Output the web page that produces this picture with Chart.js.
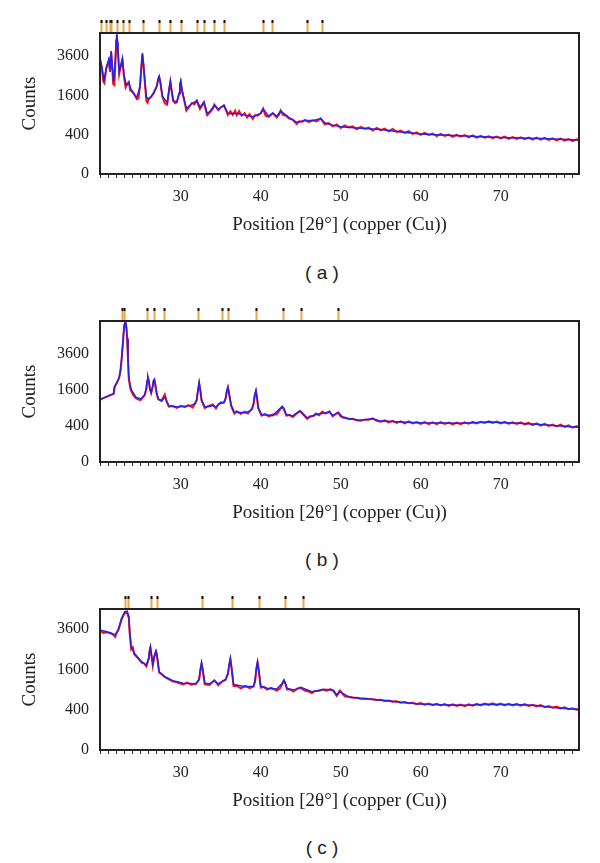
<!DOCTYPE html>
<html>
<head>
<meta charset="utf-8">
<script src="https://cdn.jsdelivr.net/npm/chart.js@4/dist/chart.umd.min.js"></script>
<style>
  html, body { margin: 0; padding: 0; background: #fff; }
  #page { position: relative; width: 600px; height: 863px; overflow: hidden; }
  .panel { position: absolute; left: 0; width: 600px; height: 240px; }
  .cap { position: absolute; left: 262px; width: 120px; text-align: center;
         font-family: "Liberation Sans", Arial, sans-serif; font-size: 19px; color: #222; line-height: 24px; }
</style>
</head>
<body>
<div id="page">
  <div class="panel" style="top:0px"><canvas id="ca" width="600" height="240"></canvas></div>
  <div class="panel" style="top:288px"><canvas id="cb" width="600" height="240"></canvas></div>
  <div class="panel" style="top:576px"><canvas id="cc" width="600" height="240"></canvas></div>
  <div class="cap" style="top:261px">( a )</div>
  <div class="cap" style="top:548px">( b )</div>
  <div class="cap" style="top:836px">( c )</div>
</div>
<script>
// ---------- tick labels ----------
const yTickValues = [0, 400, 1600, 3600];
const xTickLabels = [30, 40, 50, 60, 70];
const xTitle = 'Position [2θ°] (copper (Cu))';
const yTitle = 'Counts';

// ---------- panel (a): [2θ, counts] ----------
const aCalc = [[19.9,3500],[20.2,2800],[20.4,2285],[20.7,2900],[21.0,3400],[21.15,2795],[21.3,3930],[21.45,2900],[21.6,2200],[21.8,3300],[21.92,4600],[22.0,5100],[22.08,4500],[22.15,3800],[22.3,2705],[22.5,3000],[22.7,3460],[22.9,2530],[23.2,2047],[23.5,2155],[23.9,1750],[24.5,1520],[24.9,1970],[25.05,2900],[25.2,3800],[25.35,3100],[25.5,2300],[25.7,1545],[26.0,1444],[26.6,1682],[27.0,2000],[27.2,2400],[27.3,2482],[27.45,2200],[27.7,1573],[28.3,1315],[28.55,1900],[28.7,2250],[28.85,1850],[29.05,1415],[29.5,1330],[29.8,1700],[29.9,2100],[30.0,2250],[30.15,1850],[30.4,1480],[30.7,1115],[31.4,1290],[32.0,1390],[32.4,1150],[32.9,1350],[33.3,950],[33.6,1000],[34.2,1230],[34.7,1080],[35.4,1230],[35.9,950],[37.0,950],[38.0,900],[39.0,850],[40.0,950],[40.3,1090],[41.0,870],[41.5,960],[42.0,870],[42.5,1025],[43.5,830],[44.5,690],[45.5,740],[46.5,740],[47.5,800],[48.0,680],[49.0,620],[50.0,580],[52.5,545],[55,516],[57.5,460],[60,413],[62.5,395],[65,380],[67.5,362],[70,347],[72.5,338],[75,328],[77.5,315],[79.8,299]];
const aObs = [[19.9,3400],[20.1,3000],[20.3,2250],[20.45,2150],[20.7,2950],[21.0,3350],[21.15,2700],[21.3,3850],[21.45,2800],[21.55,2100],[21.7,2050],[21.85,3500],[21.95,4700],[22.0,5000],[22.1,4300],[22.2,3500],[22.3,2600],[22.5,3050],[22.7,3400],[22.9,2450],[23.1,1950],[23.3,2100],[23.5,2200],[23.7,1800],[23.9,1800],[24.2,1650],[24.5,1450],[24.7,1480],[24.9,2000],[25.05,2800],[25.2,3700],[25.35,3000],[25.5,2200],[25.7,1380],[25.85,1320],[26.0,1480],[26.3,1550],[26.6,1700],[27.0,2000],[27.2,2350],[27.3,2450],[27.45,2150],[27.7,1550],[28.0,1300],[28.3,1250],[28.55,1850],[28.7,2200],[28.85,1800],[29.05,1380],[29.3,1300],[29.5,1340],[29.8,1680],[29.9,2050],[30.0,2200],[30.15,1800],[30.4,1450],[30.7,1040],[31.0,1150],[31.4,1310],[31.7,1260],[32.0,1400],[32.4,1100],[32.9,1330],[33.3,900],[33.6,980],[34.0,1100],[34.2,1250],[34.7,1060],[35.0,1150],[35.4,1220],[35.9,900],[36.2,1020],[36.5,910],[36.8,1040],[37.0,900],[37.3,1030],[37.6,880],[38.0,960],[38.3,830],[38.6,930],[39.0,790],[39.3,900],[39.6,880],[40.0,960],[40.3,1110],[40.6,880],[41.0,850],[41.5,960],[42.0,830],[42.3,920],[42.5,1050],[42.8,900],[43.2,880],[43.5,800],[44.0,770],[44.5,650],[44.8,720],[45.2,710],[45.5,760],[46.0,700],[46.5,750],[47.0,720],[47.5,800],[48.0,640],[48.5,670],[49.0,590],[49.5,640],[50,550],[50.5,615],[51,565],[51.5,590],[52,520],[52.5,575],[53,535],[53.5,560],[54,490],[54.5,550],[55,500],[55.5,535],[56,475],[56.5,525],[57,460],[57.5,490],[58,440],[58.5,475],[59,418],[59.5,450],[60,400],[60.5,440],[61,395],[61.5,425],[62,372],[62.5,418],[63,378],[63.5,405],[64,360],[64.5,400],[65,362],[65.5,395],[66,350],[66.5,388],[67,345],[67.5,380],[68,342],[68.5,370],[69,332],[69.5,365],[70,330],[70.5,362],[71,322],[71.5,355],[72,318],[72.5,350],[73,315],[73.5,345],[74,308],[74.5,342],[75,305],[75.5,338],[76,300],[76.5,330],[77,295],[77.5,326],[78,288],[78.5,318],[79,282],[79.5,312],[79.8,292]];
const aMarkers = [20.0,20.7,21.1,21.25,22.0,22.75,23.55,25.24,27.25,28.66,30.0,32.0,32.9,34.2,35.41,40.25,41.4,45.75,47.66];
const aMax = 5160;

// ---------- panel (b) ----------
const bCalc = [[19.9,1193],[20.8,1323],[21.6,1433],[21.7,1725],[22.3,2162],[22.45,2500],[22.6,3200],[22.75,4300],[22.9,5610],[23.0,5950],[23.1,6035],[23.2,5600],[23.3,4570],[23.4,3300],[23.5,2245],[23.65,1850],[23.8,1603],[24.4,1283],[25.0,1220],[25.5,1391],[25.7,1700],[25.8,2050],[25.9,2213],[26.0,2050],[26.15,1650],[26.3,1487],[26.5,1800],[26.6,2050],[26.7,2110],[26.8,1900],[27.0,1450],[27.2,1220],[27.6,1130],[28.0,1298],[28.5,975],[29.5,931],[31.2,975],[31.8,1046],[32.0,1200],[32.15,1600],[32.3,1943],[32.45,1600],[32.6,1193],[33.0,931],[33.8,950],[34.0,990],[34.4,920],[35.0,1093],[35.4,1090],[35.6,1250],[35.75,1550],[35.9,1725],[36.05,1450],[36.3,1000],[36.7,760],[38.2,745],[38.9,843],[39.1,1050],[39.25,1400],[39.4,1573],[39.55,1250],[39.7,900],[40.1,690],[41.5,660],[42.5,900],[42.7,953],[42.9,880],[43.2,690],[44.0,650],[44.9,810],[45.8,598],[46.9,690],[48.1,745],[48.6,760],[49.0,660],[49.7,760],[50.3,598],[52.3,535],[54.0,575],[54.8,520],[57.5,490],[59.8,471],[62.5,465],[64.8,460],[66.5,470],[68.6,490],[70.5,475],[72.4,460],[74.5,440],[76.5,409],[79.7,372]];
const bObs = [[19.9,1180],[20.3,1250],[20.8,1310],[21.2,1370],[21.6,1420],[21.75,1750],[22.0,1900],[22.3,2200],[22.45,2550],[22.6,3250],[22.75,4200],[22.9,5500],[23.0,5850],[23.1,5900],[23.2,5500],[23.3,4700],[23.4,3200],[23.5,2100],[23.7,1650],[23.8,1550],[24.1,1350],[24.4,1250],[24.7,1200],[25.0,1180],[25.3,1300],[25.5,1380],[25.7,1650],[25.8,2000],[25.9,2150],[26.0,2000],[26.15,1600],[26.3,1450],[26.5,1750],[26.6,2000],[26.7,2050],[26.8,1850],[27.0,1400],[27.2,1200],[27.6,1160],[28.0,1400],[28.2,1150],[28.5,940],[29.0,960],[29.5,900],[30.0,970],[30.5,920],[31.0,990],[31.5,910],[31.8,1070],[32.0,1180],[32.15,1550],[32.3,1900],[32.45,1550],[32.6,1150],[33.0,890],[33.4,960],[34.0,1020],[34.4,880],[34.7,1020],[35.0,1060],[35.4,1080],[35.6,1220],[35.75,1500],[35.9,1700],[36.05,1400],[36.3,960],[36.7,720],[37.0,790],[37.5,710],[38.0,780],[38.4,720],[38.9,870],[39.1,1020],[39.25,1350],[39.4,1540],[39.55,1200],[39.7,880],[40.1,660],[40.5,710],[41.0,640],[41.5,690],[42.0,690],[42.5,880],[42.7,930],[42.9,850],[43.2,660],[43.6,680],[44.0,620],[44.5,720],[44.9,790],[45.3,700],[45.8,570],[46.2,640],[46.6,650],[46.9,720],[47.3,670],[47.7,780],[48.1,720],[48.6,790],[49.0,640],[49.4,710],[49.7,740],[50.0,630],[50.5,610],[51,570],[51.5,575],[52,535],[52.5,520],[53,550],[53.5,545],[54,585],[54.5,520],[55,500],[55.5,530],[56,480],[56.5,520],[57,470],[57.5,505],[58,455],[58.5,505],[59,455],[59.5,490],[60,448],[60.5,490],[61,442],[61.5,482],[62,440],[62.5,488],[63,445],[63.5,475],[64,435],[64.5,478],[65,440],[65.5,482],[66,448],[66.5,492],[67,455],[67.5,498],[68,468],[68.5,508],[69,470],[69.5,500],[70,458],[70.5,495],[71,450],[71.5,482],[72,445],[72.5,480],[73,436],[73.5,468],[74,418],[74.5,458],[75,408],[75.5,445],[76,398],[76.5,432],[77,390],[77.5,428],[78,380],[78.5,410],[79,362],[79.5,395],[79.8,360]];
const bMarkers = [22.6,22.9,25.83,26.66,27.95,32.2,35.2,35.95,39.4,42.75,45.0,49.7];
const bMax = 6100;

// ---------- panel (c) ----------
const cCalc = [[19.9,3547],[21.2,3388],[21.8,3257],[22.2,3588],[22.6,4273],[23.0,4710],[23.3,4750],[23.5,4400],[23.6,3600],[23.8,2630],[24.2,2303],[25.1,1920],[25.7,1780],[26.0,2100],[26.1,2450],[26.2,2630],[26.3,2350],[26.5,1820],[26.7,2200],[26.9,2428],[27.0,2300],[27.3,1510],[27.9,1348],[29.0,1183],[30.3,1095],[31.9,1080],[32.3,1250],[32.45,1600],[32.6,1877],[32.75,1600],[33.0,1095],[33.6,1080],[34.2,1183],[34.7,1080],[35.6,1230],[35.9,1450],[36.05,1800],[36.2,2070],[36.35,1700],[36.6,1060],[38.1,986],[39.1,1000],[39.3,1200],[39.45,1650],[39.6,1920],[39.75,1600],[40.0,1000],[40.8,938],[42.0,915],[42.7,1100],[42.9,1207],[43.1,1100],[43.3,930],[44.1,885],[45.0,968],[46.4,838],[47.8,900],[48.25,900],[49.1,880],[49.5,745],[49.9,838],[51.1,684],[53,650],[54.9,616],[57.5,560],[59.9,521],[62.5,505],[64.9,495],[66.5,500],[68.2,515],[70.5,510],[72.4,505],[74.5,490],[76.2,449],[78,425],[79.8,408]];
const cObs = [[19.9,3500],[20.3,3380],[20.7,3420],[21.2,3350],[21.5,3300],[21.8,3150],[22.0,3400],[22.2,3550],[22.6,4200],[23.0,4650],[23.3,4600],[23.5,4300],[23.6,3400],[23.8,2500],[24.0,2600],[24.2,2250],[24.6,2100],[25.1,1880],[25.4,1850],[25.7,1720],[26.0,2050],[26.1,2400],[26.2,2580],[26.3,2300],[26.5,1750],[26.7,2150],[26.9,2380],[27.0,2250],[27.3,1480],[27.6,1420],[27.9,1330],[28.4,1250],[29.0,1160],[29.5,1130],[30.3,1060],[30.8,1120],[31.3,1050],[31.9,1080],[32.3,1220],[32.45,1560],[32.6,1840],[32.75,1560],[33.0,1060],[33.6,1040],[34.2,1200],[34.7,1030],[35.2,1160],[35.6,1210],[35.9,1420],[36.05,1760],[36.2,2030],[36.35,1660],[36.6,1010],[37.0,1020],[37.5,940],[38.1,1010],[38.6,940],[39.1,990],[39.3,1170],[39.45,1600],[39.6,1880],[39.75,1560],[40.0,960],[40.4,980],[40.8,900],[41.3,950],[42.0,870],[42.4,930],[42.7,1080],[42.9,1180],[43.1,1060],[43.3,900],[43.7,900],[44.1,840],[44.6,930],[45.0,950],[45.5,870],[46.0,840],[46.4,800],[46.8,860],[47.2,860],[47.8,900],[48.25,870],[48.7,910],[49.1,850],[49.5,720],[49.9,870],[50.5,710],[51,700],[51.5,680],[52,670],[52.5,650],[53,655],[53.5,640],[54,635],[54.5,615],[55,620],[55.5,590],[56,605],[56.5,575],[57,585],[57.5,550],[58,565],[58.5,540],[59,548],[59.5,515],[60,545],[60.5,505],[61,530],[61.5,495],[62,525],[62.5,490],[63,518],[63.5,480],[64,512],[64.5,478],[65,510],[65.5,475],[66,515],[66.5,485],[67,525],[67.5,490],[68,532],[68.5,500],[69,535],[69.5,495],[70,530],[70.5,492],[71,528],[71.5,488],[72,525],[72.5,485],[73,520],[73.5,478],[74,505],[74.5,468],[75,495],[75.5,452],[76,478],[76.5,440],[77,465],[77.5,425],[78,450],[78.5,410],[79,428],[79.5,398],[79.8,412]];
const cMarkers = [23.04,23.37,26.25,27.08,32.7,36.37,39.79,43.04,45.25];
const cMax = 4900;

const xMin = 19.9, xMax = 79.8;

// ---------- square-root count axis ----------
class SqrtScale extends Chart.LinearScale {
  buildTicks() {
    return this.options.ticks.values.map(v => ({ value: v }));
  }
  getPixelForValue(value) {
    const a = Math.sqrt(this.min), b = Math.sqrt(this.max);
    return this.getPixelForDecimal((Math.sqrt(Math.max(0, value)) - a) / (b - a));
  }
  getValueForPixel(pixel) {
    const a = Math.sqrt(this.min), b = Math.sqrt(this.max);
    const s = a + this.getDecimalForPixel(pixel) * (b - a);
    return s * s;
  }
}
SqrtScale.id = 'sqrt';
SqrtScale.defaults = {};
Chart.register(SqrtScale);

// frame + reference-pattern markers drawn through the x scale
const framePlugin = {
  id: 'frameMarkers',
  afterDraw(chart, args, opts) {
    const { ctx, chartArea: ca } = chart;
    const xs = chart.scales.x;
    ctx.save();
    (opts.positions || []).forEach(p => {
      const px = Math.round(xs.getPixelForValue(p)) + 0.5;
      ctx.strokeStyle = '#f2a444';
      ctx.lineWidth = 2;
      ctx.beginPath(); ctx.moveTo(px, ca.top - 12); ctx.lineTo(px, ca.top); ctx.stroke();
      ctx.strokeStyle = '#111';
      ctx.beginPath(); ctx.moveTo(px, ca.top - 13); ctx.lineTo(px, ca.top - 10); ctx.stroke();
    });
    ctx.strokeStyle = '#222';
    ctx.lineWidth = 2;
    ctx.strokeRect(ca.left, ca.top, ca.right - ca.left, ca.bottom - ca.top);
    ctx.restore();
  }
};

function pts(pairs) { return pairs.map(p => ({ x: p[0], y: p[1] })); }

function makeChart(id, calc, obs, markers, yMax) {
  const serif = 'Liberation Serif';
  return new Chart(document.getElementById(id), {
    type: 'line',
    data: {
      datasets: [
        { label: 'calculated', data: pts(calc), borderColor: '#2222ee', borderWidth: 1.5,
          pointRadius: 0, tension: 0, fill: false },
        { label: 'observed', data: pts(obs), borderColor: '#ff0d0d', borderWidth: 2.0,
          pointRadius: 0, tension: 0, fill: false }
      ]
    },
    options: {
      responsive: false,
      animation: false,
      events: [],
      layout: { padding: { top: 33, right: 21, left: 0, bottom: 0 } },
      plugins: {
        legend: { display: false },
        tooltip: { enabled: false },
        frameMarkers: { positions: markers }
      },
      scales: {
        x: {
          type: 'linear', min: xMin, max: xMax,
          afterFit(s) { s.height = 66; },
          grid: { display: true, drawOnChartArea: false, drawTicks: true, tickLength: 4, color: '#333', lineWidth: 1 },
          border: { display: false },
          ticks: {
            stepSize: 1, includeBounds: false, autoSkip: false, maxRotation: 0, padding: 9,
            color: '#222', font: { family: serif, size: 16 },
            callback: v => xTickLabels.includes(v) ? String(v) : ''
          },
          title: { display: true, text: xTitle, color: '#222', font: { family: serif, size: 19 },
                   padding: { top: 0, bottom: 4 } }
        },
        y: {
          type: 'sqrt', min: 0, max: yMax,
          afterFit(s) { s.width = 100; },
          grid: { display: false, drawTicks: false },
          border: { display: false },
          ticks: { values: yTickValues, padding: 11, color: '#222', font: { family: serif, size: 16 },
                   callback: v => String(v) },
          title: { display: true, text: yTitle, color: '#222', font: { family: serif, size: 19 },
                   padding: { top: 19, bottom: 0 } }
        }
      }
    },
    plugins: [framePlugin]
  });
}

makeChart('ca', aCalc, aObs, aMarkers, aMax);
makeChart('cb', bCalc, bObs, bMarkers, bMax);
makeChart('cc', cCalc, cObs, cMarkers, cMax);
</script>
</body>
</html>
